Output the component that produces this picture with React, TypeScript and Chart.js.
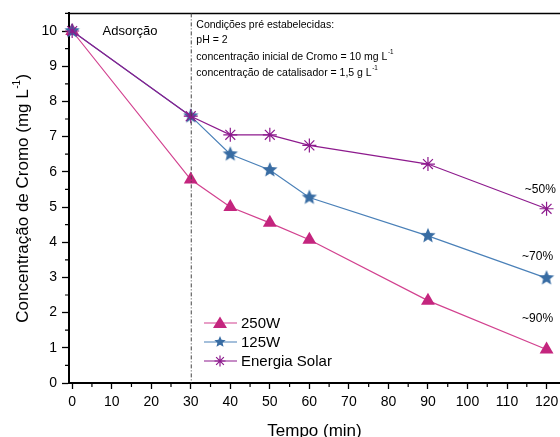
import React, { useEffect, useRef } from "react";
import { Chart, registerables } from "chart.js";

Chart.register(...registerables);

const tempo = [0, 30, 40, 50, 60, 90, 120];
const serie250W = [10, 5.78, 5.0, 4.55, 4.07, 2.34, 0.95];
const serie125W = [10, 7.58, 6.5, 6.05, 5.27, 4.18, 2.98];
const serieSolar = [10, 7.58, 7.05, 7.05, 6.75, 6.22, 4.95];
const xTicks = [0, 10, 20, 30, 40, 50, 60, 70, 80, 90, 100, 110, 120];
const xMinor = [5, 15, 25, 35, 45, 55, 65, 75, 85, 95, 105, 115];
const yTicks = [0, 1, 2, 3, 4, 5, 6, 7, 8, 9, 10];
const yMinor = [0.5, 1.5, 2.5, 3.5, 4.5, 5.5, 6.5, 7.5, 8.5, 9.5, 10.5];
const seriesNames = ["250W", "125W", "Energia Solar"];
const reductions = [
  { text: "~50%", x: 114.5, y: 5.5 },
  { text: "~70%", x: 113.8, y: 3.6 },
  { text: "~90%", x: 113.8, y: 1.82 },
];

const C250 = "#C4257E";
const C250L = "#D2418F";
const C125 = "#386CA3";
const C125L = "#4A80B8";
const CSOL = "#8D1A8D";
const FONT = "Arial, 'Liberation Sans', sans-serif";

function makeStar(color: string, r: number) {
  const size = Math.ceil(r * 2 + 2);
  const c = document.createElement("canvas");
  c.width = size;
  c.height = size;
  const ctx = c.getContext("2d")!;
  const cx = size / 2;
  const cy = size / 2;
  ctx.beginPath();
  for (let i = 0; i < 10; i++) {
    const rr = i % 2 === 0 ? r : r * 0.45;
    const a = -Math.PI / 2 + (i * Math.PI) / 5;
    const px = cx + rr * Math.cos(a);
    const py = cy + rr * Math.sin(a);
    if (i === 0) ctx.moveTo(px, py);
    else ctx.lineTo(px, py);
  }
  ctx.closePath();
  ctx.fillStyle = color;
  ctx.fill();
  return c;
}

function drawSup(ctx: CanvasRenderingContext2D, base: string, sup: string, x: number, y: number, size: number) {
  ctx.font = `${size}px ${FONT}`;
  ctx.textAlign = "left";
  ctx.textBaseline = "middle";
  ctx.fillText(base, x, y);
  const w = ctx.measureText(base).width;
  ctx.font = `${size * 0.6}px ${FONT}`;
  ctx.fillText(sup, x + w + 0.5, y - size * 0.45);
}

export default function App() {
  const ref = useRef<HTMLCanvasElement>(null);

  useEffect(() => {
    document.body.style.margin = "0";
    const star = makeStar(C125, 8);
    const starSmall = makeStar(C125, 6);

    const overlay = {
      id: "overlay",
      afterDatasetsDraw(chart: any) {
        const ctx: CanvasRenderingContext2D = chart.ctx;
        const xs = chart.scales.x;
        const ys = chart.scales.y;
        const area = chart.chartArea;
        ctx.save();
        // top frame
        ctx.strokeStyle = "#000";
        ctx.lineWidth = 1.5;
        ctx.beginPath();
        ctx.moveTo(area.left, area.top);
        ctx.lineTo(area.right, area.top);
        ctx.stroke();
        // minor ticks
        ctx.lineWidth = 1.2;
        ctx.beginPath();
        xMinor.forEach((v) => {
          const px = xs.getPixelForValue(v);
          ctx.moveTo(px, area.bottom);
          ctx.lineTo(px, area.bottom + 4);
        });
        yMinor.forEach((v) => {
          const py = ys.getPixelForValue(v);
          ctx.moveTo(area.left, py);
          ctx.lineTo(area.left - 4, py);
        });
        ctx.stroke();
        // x tick labels
        ctx.fillStyle = "#000";
        ctx.font = `14px ${FONT}`;
        ctx.textAlign = "center";
        ctx.textBaseline = "middle";
        xTicks.forEach((v) => {
          ctx.fillText(String(v), xs.getPixelForValue(v), area.bottom + 19);
        });
        // dash-dot line at 30
        const x30 = xs.getPixelForValue(30);
        ctx.strokeStyle = "#444";
        ctx.lineWidth = 1;
        ctx.setLineDash([4, 2, 1, 2]);
        ctx.beginPath();
        ctx.moveTo(x30 + 0.5, area.top);
        ctx.lineTo(x30 + 0.5, area.bottom);
        ctx.stroke();
        ctx.setLineDash([]);

        ctx.fillStyle = "#000";
        // Adsorção
        ctx.font = `13px ${FONT}`;
        ctx.textAlign = "left";
        ctx.textBaseline = "middle";
        ctx.fillText("Adsorção", xs.getPixelForValue(7.7), ys.getPixelForValue(9.98));
        // conditions
        const cx = xs.getPixelForValue(31.4);
        ctx.font = `10.5px ${FONT}`;
        ctx.fillText("Condições pré estabelecidas:", cx, ys.getPixelForValue(10.16));
        ctx.fillText("pH = 2", cx, ys.getPixelForValue(9.73));
        drawSup(ctx, "concentração inicial de Cromo = 10 mg L", "-1", cx, ys.getPixelForValue(9.27), 10.5);
        drawSup(ctx, "concentração de catalisador = 1,5 g L", "-1", cx, ys.getPixelForValue(8.8), 10.5);
        // reductions
        ctx.font = `12px ${FONT}`;
        ctx.textBaseline = "middle";
        reductions.forEach((r) => {
          ctx.fillText(r.text, xs.getPixelForValue(r.x), ys.getPixelForValue(r.y));
        });

        // legend
        const items = [
          { name: seriesNames[0], line: C250L, kind: "tri" },
          { name: seriesNames[1], line: C125L, kind: "star" },
          { name: seriesNames[2], line: CSOL, kind: "ast" },
        ];
        const ly = [323, 342, 361];
        items.forEach((it, i) => {
          const y = ly[i];
          ctx.strokeStyle = it.line;
          ctx.lineWidth = 1.2;
          ctx.beginPath();
          ctx.moveTo(204, y);
          ctx.lineTo(237, y);
          ctx.stroke();
          const mx = 220;
          if (it.kind === "tri") {
            ctx.fillStyle = C250;
            ctx.beginPath();
            ctx.moveTo(mx, y - 6.5);
            ctx.lineTo(mx + 7, y + 5);
            ctx.lineTo(mx - 7, y + 5);
            ctx.closePath();
            ctx.fill();
          } else if (it.kind === "star") {
            ctx.drawImage(starSmall, mx - starSmall.width / 2, y - starSmall.height / 2);
          } else {
            ctx.strokeStyle = CSOL;
            ctx.lineWidth = 1.2;
            ctx.beginPath();
            const r = 5.5;
            for (let k = 0; k < 4; k++) {
              const a = (k * Math.PI) / 4;
              ctx.moveTo(mx - r * Math.cos(a), y - r * Math.sin(a));
              ctx.lineTo(mx + r * Math.cos(a), y + r * Math.sin(a));
            }
            ctx.stroke();
          }
          ctx.fillStyle = "#000";
          ctx.font = `15px ${FONT}`;
          ctx.textAlign = "left";
          ctx.textBaseline = "middle";
          ctx.fillText(it.name, 241, y + 1);
        });

        // axis titles
        ctx.font = `17px ${FONT}`;
        ctx.textAlign = "center";
        ctx.textBaseline = "alphabetic";
        ctx.fillText("Tempo (min)", (area.left + area.right) / 2, 436);

        ctx.save();
        ctx.translate(28, (area.top + area.bottom) / 2);
        ctx.rotate(-Math.PI / 2);
        const base = "Concentração de Cromo (mg L";
        const sup = "-1";
        const tail = ")";
        ctx.font = `17px ${FONT}`;
        const wb = ctx.measureText(base).width;
        const wt = ctx.measureText(tail).width;
        ctx.font = `10px ${FONT}`;
        const ws = ctx.measureText(sup).width;
        const total = wb + ws + wt + 1;
        let sx = -total / 2;
        ctx.textAlign = "left";
        ctx.font = `17px ${FONT}`;
        ctx.fillText(base, sx, 0);
        sx += wb + 0.5;
        ctx.font = `10px ${FONT}`;
        ctx.fillText(sup, sx, -8);
        sx += ws + 0.5;
        ctx.font = `17px ${FONT}`;
        ctx.fillText(tail, sx, 0);
        ctx.restore();

        ctx.restore();
      },
    };

    const chart = new Chart(ref.current!, {
      type: "line",
      data: {
        datasets: [
          {
            label: seriesNames[2],
            data: tempo.map((t, i) => ({ x: t, y: serieSolar[i] })),
            borderColor: CSOL,
            borderWidth: 1.2,
            pointStyle: "star",
            pointRadius: 7,
            pointBorderColor: CSOL,
            pointBorderWidth: 1.2,
            pointBackgroundColor: CSOL,
            clip: false as any,
          },
          {
            label: seriesNames[1],
            data: tempo.map((t, i) => ({ x: t, y: serie125W[i] })),
            borderColor: C125L,
            borderWidth: 1.2,
            pointStyle: star as any,
            pointRadius: 8,
            clip: false as any,
          },
          {
            label: seriesNames[0],
            data: tempo.map((t, i) => ({ x: t, y: serie250W[i] })),
            borderColor: C250L,
            borderWidth: 1.2,
            pointStyle: "triangle",
            pointRadius: 8,
            pointBorderWidth: 0,
            pointBackgroundColor: C250,
            clip: false as any,
          },
        ],
      },
      options: {
        animation: false,
        responsive: false,
        layout: { autoPadding: false, padding: { top: 13, left: 0, right: 0, bottom: 0 } },
        plugins: { legend: { display: false }, tooltip: { enabled: false } },
        scales: {
          x: {
            type: "linear",
            min: -0.8,
            max: 123.4,
            afterBuildTicks: (s: any) => {
              s.ticks = xTicks.map((v) => ({ value: v }));
            },
            afterFit: (s: any) => {
              s.height = 54;
            },
            grid: { drawOnChartArea: false, drawTicks: true, tickLength: 6, tickColor: "#000", tickWidth: 1.3 },
            border: { display: true, color: "#000", width: 2 },
            ticks: { display: false },
          },
          y: {
            type: "linear",
            min: 0,
            max: 10.5,
            afterBuildTicks: (s: any) => {
              s.ticks = yTicks.map((v) => ({ value: v }));
            },
            afterFit: (s: any) => {
              s.width = 69;
            },
            grid: { drawOnChartArea: false, drawTicks: true, tickLength: 7, tickColor: "#000", tickWidth: 1.3 },
            border: { display: true, color: "#000", width: 2 },
            ticks: { color: "#000", font: { family: FONT, size: 14 }, padding: 5, autoSkip: false },
          },
        },
      },
      plugins: [overlay],
    });
    return () => chart.destroy();
  }, []);

  return (
    <div style={{ width: 560, height: 437 }}>
      <canvas ref={ref} width={560} height={437} style={{ display: "block" }} />
    </div>
  );
}
